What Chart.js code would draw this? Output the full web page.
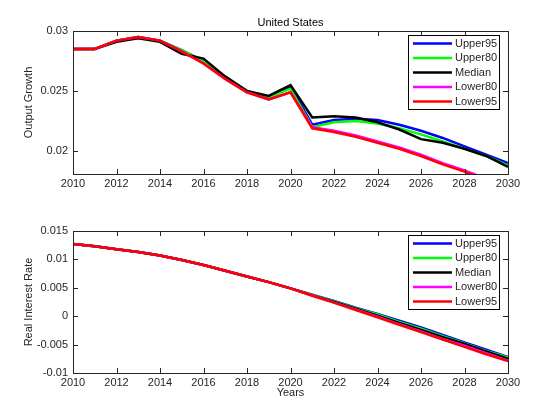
<!DOCTYPE html>
<html>
<head>
<meta charset="utf-8">
<script src="https://cdn.jsdelivr.net/npm/chart.js@4"></script>
<style>
  body { margin: 0; background: #fff; }
  .wrap { position: absolute; left: 0; width: 560px; height: 210px; }
</style>
</head>
<body>
<div class="wrap" style="top:0"><canvas id="growth"></canvas></div>
<div class="wrap" style="top:210px"><canvas id="rate"></canvas></div>
<script>
// Data
const years = [2010,2011,2012,2013,2014,2015,2016,2017,2018,2019,2020,2021,2022,2023,2024,2025,2026,2027,2028,2029,2030];
const seriesNames = ['Upper95', 'Upper80', 'Median', 'Lower80', 'Lower95'];
const seriesColors = ['#0000ff', '#00ff00', '#000000', '#ff00ff', '#ff0000'];

const growthUpper95 = [0.0285,0.0285,0.0292,0.0295,0.0292,0.0284,0.0275,0.0262,0.0250,0.0245,0.0254,0.0222,0.0226,0.0227,0.0226,0.0222,0.0217,0.0211,0.0204,0.0197,0.0190];
const growthUpper80 = [0.0285,0.0285,0.0292,0.0295,0.0292,0.0284,0.0275,0.0262,0.0250,0.0245,0.0252,0.0220,0.0224,0.0225,0.0223,0.0219,0.0214,0.0208,0.0202,0.0196,0.0188];
const growthMedian  = [0.0285,0.0285,0.0291,0.0294,0.0291,0.0281,0.0277,0.0262,0.0250,0.0246,0.0255,0.0228,0.0229,0.0228,0.0224,0.0218,0.0210,0.0207,0.0202,0.0196,0.0187];
const growthLower80 = [0.0285,0.0285,0.0292,0.0295,0.0292,0.0283,0.0273,0.0260,0.0249,0.0243,0.0249,0.0220,0.0217,0.0213,0.0208,0.0203,0.0197,0.0190,0.0184,0.0177,0.0169];
const growthLower95 = [0.0285,0.0285,0.0292,0.0295,0.0292,0.0283,0.0273,0.0260,0.0249,0.0243,0.0249,0.0219,0.0216,0.0212,0.0207,0.0202,0.0196,0.0189,0.0183,0.0175,0.0167];

const rateUpper95 = [0.0127,0.0123,0.0118,0.0113,0.0107,0.0099,0.0090,0.0080,0.0070,0.0060,0.0049,0.0038,0.0027,0.0015,0.0004,-0.0008,-0.0020,-0.0033,-0.0046,-0.0059,-0.0072];
const rateUpper80 = [0.0127,0.0123,0.0118,0.0113,0.0107,0.0099,0.0090,0.0080,0.0070,0.0060,0.0049,0.0038,0.0026,0.0014,0.0003,-0.0010,-0.0022,-0.0035,-0.0048,-0.0061,-0.0073];
const rateMedian  = [0.0127,0.0123,0.0118,0.0113,0.0107,0.0099,0.0090,0.0080,0.0070,0.0060,0.0049,0.0037,0.0025,0.0013,0.0001,-0.0012,-0.0024,-0.0037,-0.0049,-0.0062,-0.0075];
const rateLower80 = [0.0127,0.0123,0.0118,0.0113,0.0107,0.0099,0.0090,0.0080,0.0070,0.0060,0.0049,0.0037,0.0024,0.0012,-0.0001,-0.0014,-0.0027,-0.0040,-0.0052,-0.0065,-0.0078];
const rateLower95 = [0.0127,0.0123,0.0118,0.0113,0.0107,0.0099,0.0090,0.0080,0.0070,0.0060,0.0049,0.0036,0.0024,0.0011,-0.0002,-0.0015,-0.0028,-0.0041,-0.0054,-0.0067,-0.0079];

const xTicks = [2010,2012,2014,2016,2018,2020,2022,2024,2026,2028,2030];
const growthTicks = [0.02, 0.025, 0.03];
const rateTicks = [-0.01, -0.005, 0, 0.005, 0.01, 0.015];

const FONT = { family: "'Liberation Sans', Arial, sans-serif", size: 11 };
const INK = '#262626';

// MATLAB style box, inward ticks, legend inside the axes, title
const matlabPlugin = {
    id: 'matlab',
    afterDatasetsDraw(chart, args, opts) {
        const { ctx, chartArea: a, scales } = chart;
        ctx.save();
        ctx.strokeStyle = INK;
        ctx.lineWidth = 1;
        ctx.strokeRect(a.left + 0.5, a.top + 0.5, a.right - a.left, a.bottom - a.top);
        ctx.beginPath();
        scales.x.ticks.forEach(t => {
            const px = Math.round(scales.x.getPixelForValue(t.value)) + 0.5;
            ctx.moveTo(px, a.bottom); ctx.lineTo(px, a.bottom - 5);
            ctx.moveTo(px, a.top); ctx.lineTo(px, a.top + 5);
        });
        scales.y.ticks.forEach(t => {
            const py = Math.round(scales.y.getPixelForValue(t.value)) + 0.5;
            ctx.moveTo(a.left, py); ctx.lineTo(a.left + 5, py);
            ctx.moveTo(a.right, py); ctx.lineTo(a.right - 5, py);
        });
        ctx.stroke();

        // legend
        const lx = a.right - 100, ly = a.top + 4, w = 91, h = 74, rowH = 14.5;
        ctx.fillStyle = '#fff';
        ctx.fillRect(lx, ly, w, h);
        ctx.strokeStyle = '#000';
        ctx.strokeRect(lx + 0.5, ly + 0.5, w, h);
        ctx.font = `${FONT.size}px ${FONT.family}`;
        ctx.textBaseline = 'middle';
        chart.data.datasets.forEach((ds, i) => {
            const y = ly + 8.5 + i * rowH;
            ctx.strokeStyle = ds.borderColor;
            ctx.lineWidth = 2.5;
            ctx.beginPath();
            ctx.moveTo(lx + 5, y); ctx.lineTo(lx + 44, y);
            ctx.stroke();
            ctx.fillStyle = INK;
            ctx.fillText(ds.label, lx + 47, y);
        });

        if (opts.title) {
            ctx.fillStyle = '#000';
            ctx.textAlign = 'center';
            ctx.textBaseline = 'bottom';
            ctx.fillText(opts.title, (a.left + a.right) / 2, a.top - 3);
        }
        ctx.restore();
    }
};

const makeChart = (id, values, yMin, yMax, yTicks, yTitle, opts) => {
    const datasets = seriesNames.map((name, i) => ({
        label: name,
        data: years.map((yr, j) => ({ x: yr, y: values[i][j] })),
        borderColor: seriesColors[i],
        borderWidth: 2.5,
        pointRadius: 0,
        tension: 0,
        fill: false,
        order: seriesNames.length - 1 - i
    }));
    return new Chart(document.getElementById(id), {
        type: 'line',
        data: { datasets },
        options: {
            responsive: true,
            maintainAspectRatio: false,
            animation: false,
            layout: { padding: { top: opts.padTop, left: 22, right: 52, bottom: opts.padBottom } },
            plugins: {
                legend: { display: false },
                tooltip: { enabled: false },
                matlab: { title: opts.title }
            },
            scales: {
                x: {
                    type: 'linear', min: 2010, max: 2030,
                    afterBuildTicks: ax => { ax.ticks = xTicks.map(v => ({ value: v })); },
                    afterFit: ax => { ax.height = opts.xHeight; },
                    grid: { display: false, drawTicks: false, tickLength: 0 },
                    border: { display: false },
                    ticks: { color: INK, font: FONT, padding: 3, maxRotation: 0, callback: v => String(v) },
                    title: { display: !!opts.xTitle, text: opts.xTitle, color: INK, font: FONT, padding: 0 }
                },
                y: {
                    min: yMin, max: yMax,
                    afterBuildTicks: ax => { ax.ticks = yTicks.map(v => ({ value: v })); },
                    afterFit: ax => { ax.width = 51; },
                    grid: { display: false, drawTicks: false, tickLength: 0 },
                    border: { display: false },
                    ticks: { color: INK, font: FONT, padding: 5, callback: v => String(Number(v.toFixed(4))) },
                    title: { display: true, text: yTitle, color: INK, font: FONT, padding: 0 }
                }
            }
        },
        plugins: [matlabPlugin]
    });
};

makeChart('growth',
    [growthUpper95, growthUpper80, growthMedian, growthLower80, growthLower95],
    0.0181, 0.03, growthTicks, 'Output Growth',
    { padTop: 31, padBottom: 0, xHeight: 36, title: 'United States' });

makeChart('rate',
    [rateUpper95, rateUpper80, rateMedian, rateLower80, rateLower95],
    -0.01, 0.015, rateTicks, 'Real Interest Rate',
    { padTop: 21, padBottom: 20, xHeight: 27, xTitle: 'Years' });
</script>
</body>
</html>
